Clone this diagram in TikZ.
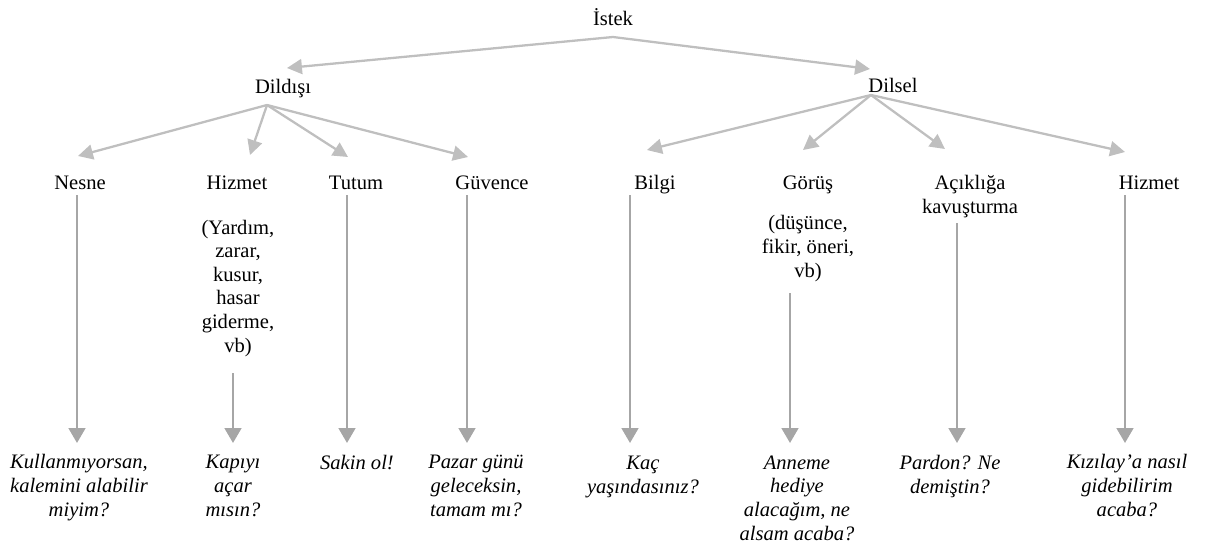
\documentclass[tikz,border=0pt]{standalone}
\usepackage{fontspec}
\setmainfont{Liberation Serif}
\usetikzlibrary{arrows.meta}

\begin{document}
\begin{tikzpicture}[x=0.02cm, y=-0.02cm,
  every node/.style={inner sep=0pt, align=center, anchor=base, font=\fontsize{11.7}{13.4}\selectfont},
  ornek/.style={font=\fontsize{11.7}{13.4}\selectfont\itshape},
  dal/.style={draw=black!25, line width=1.3pt, -{Triangle[length=8.5pt,width=8.5pt]}},
  alt/.style={draw=black!35, line width=1.4pt, -{Triangle[length=8.5pt,width=9.5pt]}}]
\useasboundingbox (0,0) rectangle (1232,545);

\node (istek) at (613, 25) {İstek};
\node (dildisi) at (283, 93) {Dildışı};
\node (dilsel) at (893, 92) {Dilsel};

\node (nesne) at (80, 189) {Nesne};
\node (hizmetA) at (237, 189) {Hizmet};
\node (hizmetAalt) at (238, 352) {(Yardım,\\zarar,\\kusur,\\hasar\\giderme,\\vb)};
\node (tutum) at (356, 189) {Tutum};
\node (guvence) at (492, 189) {Güvence};
\node (bilgi) at (655, 189) {Bilgi};
\node (gorus) at (808, 189) {Görüş};
\node (gorusalt) at (808, 277) {(düşünce,\\fikir, öneri,\\vb)};
\node (aciklik) at (970, 213) {Açıklığa\\kavuşturma};
\node (hizmetB) at (1149, 189) {Hizmet};

\node[ornek] (ornek1) at (79, 516) {Kullanmıyorsan,\\kalemini alabilir\\miyim?};
\node[ornek] (ornek2) at (233, 516) {Kapıyı\\açar\\mısın?};
\node[ornek] (ornek3) at (357, 469) {Sakin ol!};
\node[ornek] (ornek4) at (476, 516) {Pazar günü\\geleceksin,\\tamam mı?};
\node[ornek] (ornek5) at (643, 493) {Kaç\\yaşındasınız?};
\node[ornek] (ornek6) at (797, 540) {Anneme\\hediye\\alacağım, ne\\alsam acaba?};
\node[ornek] (ornek7) at (950, 493) {Pardon? Ne\\demiştin?};
\node[ornek] (ornek8) at (1127, 516) {Kızılay’a nasıl\\gidebilirim\\acaba?};

\draw[dal] ([shift={(0,12)}]istek.base) -- ([shift={(4,-25)}]dildisi.base);
\draw[dal] ([shift={(0,12)}]istek.base) -- ([shift={(-23,-23)}]dilsel.base);

\draw[dal] ([shift={(-16,12)}]dildisi.base) -- ([shift={(-2,-33)}]nesne.base);
\draw[dal] ([shift={(-16,12)}]dildisi.base) -- ([shift={(13,-34)}]hizmetA.base);
\draw[dal] ([shift={(-16,12)}]dildisi.base) -- ([shift={(-8,-32)}]tutum.base);
\draw[dal] ([shift={(-16,12)}]dildisi.base) -- ([shift={(-24,-32)}]guvence.base);

\draw[dal] ([shift={(-22,3)}]dilsel.base) -- ([shift={(-8,-39)}]bilgi.base);
\draw[dal] ([shift={(-22,3)}]dilsel.base) -- ([shift={(-5,-39)}]gorus.base);
\draw[dal] ([shift={(-22,3)}]dilsel.base) -- ([shift={(-25,-64)}]aciklik.base);
\draw[dal] ([shift={(-22,3)}]dilsel.base) -- ([shift={(-24,-37)}]hizmetB.base);

\draw[alt] ([shift={(-3,6)}]nesne.base) -- ([shift={(-2,-73)}]ornek1.base);
\draw[alt] ([shift={(-5,21)}]hizmetAalt.base) -- ([shift={(0,-73)}]ornek2.base);
\draw[alt] ([shift={(-9,6)}]tutum.base) -- ([shift={(-10,-26)}]ornek3.base);
\draw[alt] ([shift={(-25,6)}]guvence.base) -- ([shift={(-9,-73)}]ornek4.base);
\draw[alt] ([shift={(-25,6)}]bilgi.base) -- ([shift={(-13,-50)}]ornek5.base);
\draw[alt] ([shift={(-18,16)}]gorusalt.base) -- ([shift={(-7,-97)}]ornek6.base);
\draw[alt] ([shift={(-13,10)}]aciklik.base) -- ([shift={(7,-50)}]ornek7.base);
\draw[alt] ([shift={(-24,6)}]hizmetB.base) -- ([shift={(-2,-73)}]ornek8.base);
\end{tikzpicture}
\end{document}
